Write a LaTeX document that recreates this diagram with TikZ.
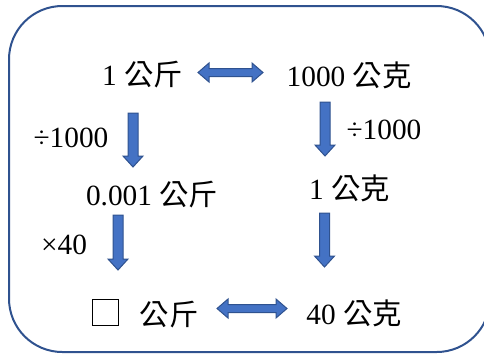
\documentclass[tikz,border=0pt]{standalone}
\usepackage{fontspec}
\setmainfont{Liberation Serif}
\newfontfamily\cjk{Noto Sans CJK TC}
\definecolor{arrfill}{HTML}{4472C4}
\definecolor{arredge}{HTML}{2F528F}
\begin{document}
\begin{tikzpicture}[x=0.75pt,y=-0.75pt,
  lbl/.style={inner sep=0pt,font=\fontsize{22}{26}\selectfont},
  blk/.style={fill=arrfill,draw=arredge,line width=0.75pt,line join=miter},
  pics/downblk/.style={code={
    \path[blk] (-5,0) -- (5,0) -- (5,#1-11) -- (10,#1-11) -- (0,#1) -- (-10,#1-11) -- (-5,#1-11) -- cycle;}},
  pics/dblblk/.style={code={
    \path[blk] (0,0) -- (11,-9.5) -- (11,-4) -- (#1-11,-4) -- (#1-11,-9.5) -- (#1,0) -- (#1-11,9.5) -- (#1-11,4) -- (11,4) -- (11,9.5) -- cycle;}}
]
\useasboundingbox (0,0) rectangle (484,355);
\draw[arredge,line width=1.5pt,rounded corners=40pt] (9,6) rectangle (490,352);

\node[lbl] (n1) at (142.5,75) {1 {\cjk 公斤}};
\node[lbl] (n2) at (349,75) {1000 {\cjk 公克}};
\node[lbl] (l1) at (71,138) {÷1000};
\node[lbl] (r1) at (384,130) {÷1000};
\node[lbl] (n3) at (152,195) {0.001 {\cjk 公斤}};
\node[lbl] (n4) at (349.5,188) {1 {\cjk 公克}};
\node[lbl] (l2) at (64,245) {×40};
\node[draw,line width=0.6pt,minimum size=20pt,inner sep=0pt] (box) at (105.5,312.5) {};
\node[lbl] (n5) at (169,315) {\cjk 公斤};
\node[lbl] (n6) at (354,313) {40 {\cjk 公克}};

\coordinate (d1) at (198,72.5);
\coordinate (d2) at (217,308.5);
\coordinate (a1) at (133,113);
\coordinate (a2) at (325,102);
\coordinate (a3) at (118,215);
\coordinate (a4) at (324.5,213);
\pic at (d1) {dblblk=65};
\pic at (d2) {dblblk=70};
\pic at (a1) {downblk=54};
\pic at (a2) {downblk=54};
\pic at (a3) {downblk=55};
\pic at (a4) {downblk=54};
\end{tikzpicture}
\end{document}
